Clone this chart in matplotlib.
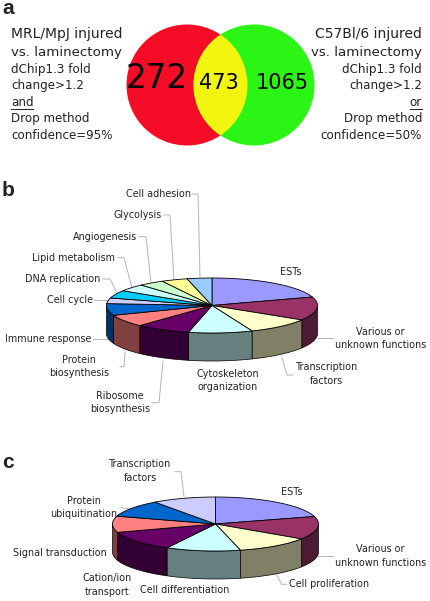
"""Venn diagram and two 3D pies of regulated gene classes."""

import numpy as np
import matplotlib

matplotlib.use("Agg")
from matplotlib import pyplot as plt
from matplotlib.colors import to_rgb
from matplotlib.patches import Circle

# panel a
venn_counts = [272, 473, 1065]
left_lines = ["MRL/MpJ injured", "vs. laminectomy", "dChip1.3 fold", "change>1.2",
              "and", "Drop method", "confidence=95%"]
right_lines = ["C57Bl/6 injured", "vs. laminectomy", "dChip1.3 fold", "change>1.2",
               "or", "Drop method", "confidence=50%"]

# panel b, percent of genes clockwise from 12 o'clock
b_labels = ["ESTs", "Various or\nunknown functions", "Transcription\nfactors",
            "Cytoskeleton\norganization", "Ribosome\nbiosynthesis", "Protein\nbiosynthesis",
            "Immune response", "Cell cycle", "DNA replication", "Lipid metabolism",
            "Angiogenesis", "Glycolysis", "Cell adhesion"]
b_values = [20.0, 13.8, 10.0, 9.8, 8.4, 7.2, 6.9, 3.3, 4.6, 4.3, 3.9, 4.0, 3.8]
b_colors = ["#9999ff", "#993366", "#ffffcc", "#ccffff", "#660066", "#ff8080", "#0066cc",
            "#ccccff", "#00ccff", "#ccffff", "#ccffcc", "#ffff99", "#99ccff"]

# panel c
c_labels = ["ESTs", "Various or\nunknown functions", "Cell proliferation",
            "Cell differentiation", "Cation/ion\ntransport", "Signal transduction",
            "Protein\nubiquitination", "Transcription\nfactors"]
c_values = [20.5, 13.8, 11.8, 11.7, 12.2, 9.7, 10.3, 10.0]
c_colors = ["#9999ff", "#993366", "#ffffcc", "#ccffff", "#660066", "#ff8080", "#0066cc",
            "#ccccff"]

# label centres, in the same order as the labels
b_label_pos = [(290.7, 272.3), (380.5, 338.3), (326.7, 374), (227.5, 380.7), (120.3, 402.7),
               (78.7, 366.7), (47.8, 338.7), (70, 300), (62.7, 279), (73.7, 257.7),
               (105, 236.7), (138, 215), (158, 194)]
c_label_pos = [(291.7, 492.3), (380.5, 556), (329.5, 584.3), (185, 590), (106.7, 585),
               (60.3, 552.7), (83.7, 507.3), (140.5, 471)]

b_leaders = [
    [(192, 194), (198, 194), (200, 277)],
    [(164, 215), (170, 215), (174, 280)],
    [(139, 236.7), (146, 236.7), (151, 283)],
    [(118, 257.7), (124, 257.7), (132, 288)],
    [(103, 279), (110, 279), (117, 293)],
    [(94, 300), (108, 300)],
    [(93, 338.7), (109, 338.7)],
    [(120, 366.7), (124, 366.7), (125, 352)],
    [(152, 402.7), (159, 402.7), (163, 361)],
    [(293, 375), (287, 375), (281.7, 356.7)],
    [(333, 338), (318, 338)],
]
c_leaders = [
    [(175, 471.7), (181, 471.7), (184, 497)],
    [(120, 507.7), (131.7, 509)],
    [(333, 556.3), (318, 556.3)],
    [(287, 584.3), (281.7, 584.3), (276.7, 575)],
]

FONT = "DejaVu Sans"
LABEL_SIZE = 6.9
LEADER_COLOR = "#b4b4b4"


def draw_pie(ax, values, colors, cx, cy, rx, ry, depth):
    edges = np.cumsum([0.0] + list(values))
    edges = edges / edges[-1] * 2 * np.pi
    for start, end, color in zip(edges[:-1], edges[1:], colors):
        # front wall, only the part facing the viewer
        lo = max(start, np.pi / 2)
        hi = min(end, 3 * np.pi / 2)
        if hi > lo:
            t = np.linspace(lo, hi, 60)
            x = cx + rx * np.sin(t)
            y = cy - ry * np.cos(t)
            side = tuple(c * 0.5 for c in to_rgb(color))
            ax.fill(np.r_[x, x[::-1]], np.r_[y, y[::-1] + depth], facecolor=side,
                    edgecolor="black", linewidth=0.5, zorder=2)
    for start, end, color in zip(edges[:-1], edges[1:], colors):
        t = np.linspace(start, end, 60)
        x = cx + rx * np.sin(t)
        y = cy - ry * np.cos(t)
        ax.fill(np.r_[cx, x], np.r_[cy, y], facecolor=color, edgecolor="black",
                linewidth=0.6, zorder=3)


def draw_labels(ax, labels, positions, leaders):
    for line in leaders:
        xs, ys = zip(*line)
        ax.plot(xs, ys, color=LEADER_COLOR, linewidth=0.7, zorder=1)
    for label, (x, y) in zip(labels, positions):
        ax.text(x, y, label, ha="center", va="center", fontsize=LABEL_SIZE, family=FONT,
                color="#222222", linespacing=1.4, zorder=5)


fig = plt.figure(figsize=(4.3, 6.01), dpi=100)
ax = fig.add_axes([0, 0, 1, 1])
ax.set_xlim(0, 430)
ax.set_ylim(601, 0)
ax.axis("off")

# venn
ax.add_patch(Circle((187, 85), 60.5, facecolor="#f50d28", edgecolor="none", zorder=1))
green = Circle((254, 85), 60.5, facecolor="#2af515", edgecolor="none", zorder=2)
ax.add_patch(green)
lens = Circle((187, 85), 60.5, facecolor="#f2f50f", edgecolor="none", zorder=3)
ax.add_patch(lens)
lens.set_clip_path(Circle((254, 85), 60.5, transform=ax.transData))

ax.text(156.7, 78.5, str(venn_counts[0]), ha="center", va="center", fontsize=23.5, family=FONT,
        color="black", zorder=4)
ax.text(218.8, 82.7, str(venn_counts[1]), ha="center", va="center", fontsize=15, family=FONT,
        color="black", zorder=4)
ax.text(282.5, 82.7, str(venn_counts[2]), ha="center", va="center", fontsize=15, family=FONT,
        color="black", zorder=4)

line_ys = [34, 52.7, 69.3, 86, 102, 118.7, 135.3]
line_sizes = [10.0, 9.6, 8.6, 8.6, 8.6, 8.6, 8.6]
for text, y, size in zip(left_lines, line_ys, line_sizes):
    ax.text(11, y, text, ha="left", va="center", fontsize=size, family=FONT, color="#222222")
for text, y, size in zip(right_lines, line_ys, line_sizes):
    ax.text(422, y, text, ha="right", va="center", fontsize=size, family=FONT, color="#222222")
ax.plot([11, 33], [108.5, 108.5], color="#222222", linewidth=0.7)
ax.plot([410, 422], [108.5, 108.5], color="#222222", linewidth=0.7)

draw_pie(ax, b_values, b_colors, 212, 305.5, 105.5, 27.5, 28)
draw_labels(ax, b_labels, b_label_pos, b_leaders)

draw_pie(ax, c_values, c_colors, 215.5, 524, 103, 27, 28)
draw_labels(ax, c_labels, c_label_pos, c_leaders)

for letter, y in zip("abc", [8, 191, 463]):
    ax.text(2, y, letter, ha="left", va="center", fontsize=15, fontweight="bold",
            family="Liberation Sans", color="#222222")

fig.savefig("out.png", dpi=100)
plt.close(fig)
